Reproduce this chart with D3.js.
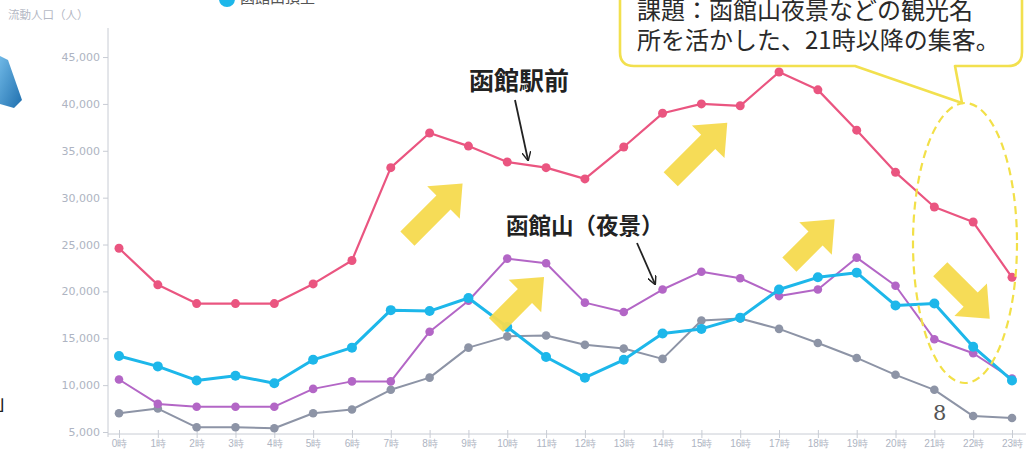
<!DOCTYPE html>
<html><head><meta charset="utf-8">
<script src="https://cdn.jsdelivr.net/npm/d3@7/dist/d3.min.js"></script>
<style>
html,body{margin:0;padding:0;background:#fff;overflow:hidden;}
svg{display:block;font-family:"Noto Sans CJK JP","Noto Sans",sans-serif;}
</style></head>
<body>
<svg id="chart" width="1026" height="450"></svg>
<script>
const hours = ["0時","1時","2時","3時","4時","5時","6時","7時","8時","9時","10時","11時","12時","13時","14時","15時","16時","17時","18時","19時","20時","21時","22時","23時"];
const yTicks = [5000,10000,15000,20000,25000,30000,35000,40000,45000];
const ekimae = [24600,20700,18700,18700,18700,20800,23300,33200,36900,35500,33800,33200,32000,35400,39000,40000,39800,43400,41500,37200,32700,29000,27400,21500];
const cyanSeries = [13100,12000,10500,11000,10200,12700,14000,18000,17900,19300,16200,13000,10800,12700,15500,16000,17200,20200,21500,22000,18500,18700,14100,10500];
const hakodateyama = [10600,8000,7700,7700,7700,9600,10400,10400,15700,19000,23500,23000,18800,17800,20200,22100,21400,19500,20200,23600,20600,14900,13400,10700];
const graySeries = [7000,7500,5500,5500,5400,7000,7400,9500,10800,14000,15200,15300,14300,13900,12800,16900,17100,16000,14500,12900,11100,9500,6700,6500];

const svg = d3.select("#chart");
const x = d3.scalePoint().domain(hours).range([119,1012]);
const y = d3.scaleLinear().domain([5000,48100]).range([432,28]);

// ---------- axes ----------
const axisColor = "#c8ccd4", labelColor = "#aeb4c2";
const yAxis = svg.append("g").attr("transform","translate(108,0)")
  .call(d3.axisLeft(y).tickValues(yTicks).tickSize(5).tickPadding(3).tickFormat(d3.format(",")));
yAxis.select(".domain").attr("stroke",axisColor).attr("d","M0,28V437");
yAxis.selectAll(".tick line").attr("stroke",axisColor);
yAxis.selectAll(".tick text").attr("fill",labelColor).attr("font-size",11).attr("font-family","DejaVu Sans, sans-serif");

const xAxis = svg.append("g").attr("transform","translate(0,434)")
  .call(d3.axisBottom(x).tickSize(4).tickPadding(2));
xAxis.select(".domain").attr("stroke",axisColor).attr("d","M108,0H1026");
xAxis.selectAll(".tick line").attr("stroke",axisColor).attr("y1",-4);
xAxis.selectAll(".tick text").attr("fill",labelColor).attr("font-size",10);

svg.append("text").attr("x",8).attr("y",19).attr("fill","#b4b8c4").attr("font-size",11.5).text("流動人口（人）");

// ---------- series ----------
const series = [
  {name:"gray", values:graySeries, color:"#8d94a6", w:2, r:4.3},
  {name:"hakodateyama", values:hakodateyama, color:"#b366c6", w:2, r:4.3},
  {name:"cyan", values:cyanSeries, color:"#1db7ea", w:3, r:5},
  {name:"ekimae", values:ekimae, color:"#ea5580", w:2.2, r:4.5}
];
const line = d3.line().x((d,i)=>x(hours[i])).y(d=>y(d));
series.forEach(s=>{
  const g = svg.append("g");
  g.append("path").attr("d",line(s.values)).attr("fill","none").attr("stroke",s.color).attr("stroke-width",s.w).attr("stroke-linejoin","round");
  g.selectAll("circle").data(s.values).join("circle")
    .attr("cx",(d,i)=>x(hours[i])).attr("cy",d=>y(d)).attr("r",s.r).attr("fill",s.color);
});

// ---------- decorations ----------
function blockArrow(cx,cy,len,rot){
  const sw=10, hw=23, hl=27, h=len/2;
  const p=[[-h,-sw],[h-hl,-sw],[h-hl,-hw],[h,0],[h-hl,hw],[h-hl,sw],[-h,sw]];
  svg.append("path").attr("d","M"+p.map(q=>q.join(",")).join("L")+"Z")
    .attr("fill","#f6da4e").attr("opacity",0.95)
    .attr("transform",`translate(${cx},${cy}) rotate(${rot})`);
}
blockArrow(435,211,78,-45);
blockArrow(699,151,80,-45);
blockArrow(520,301,68,-45);
blockArrow(812,242,64,-45);
blockArrow(965,294,70,45);

// dashed ellipse
svg.append("ellipse").attr("cx",965).attr("cy",243).attr("rx",52).attr("ry",140)
  .attr("fill","none").attr("stroke","#f2e048").attr("stroke-width",2.2).attr("stroke-dasharray","8,5");

// callout box
svg.append("path")
  .attr("d","M620,-20 L620,52 Q620,66 634,66 L855,66 L962,103 L955,66 L1008,66 Q1022,66 1022,52 L1022,-20 Z")
  .attr("fill","#fff").attr("stroke","#f2e04e").attr("stroke-width",2.6).attr("stroke-linejoin","round");
const callout = ["課題：函館山夜景などの観光名","所を活かした、21時以降の集客。"];
svg.append("text").attr("x",637).attr("y",19).attr("font-size",24).attr("fill","#2a2a2a").text(callout[0]);
svg.append("text").attr("x",637).attr("y",49).attr("font-size",24).attr("fill","#2a2a2a").text(callout[1]);

// annotations
svg.append("defs").append("marker").attr("id","ah").attr("viewBox","0 0 10 10").attr("refX",9).attr("refY",5)
  .attr("markerWidth",9).attr("markerHeight",9).attr("orient","auto-start-reverse").attr("markerUnits","userSpaceOnUse")
  .append("path").attr("d","M0,0L10,5L0,10").attr("fill","none").attr("stroke","#222").attr("stroke-width",1.6);
svg.append("text").attr("x",469).attr("y",90).attr("font-size",25).attr("font-weight","bold").attr("fill","#222").text("函館駅前");
svg.append("line").attr("x1",515).attr("y1",100).attr("x2",528).attr("y2",160).attr("stroke","#222").attr("stroke-width",1.8).attr("marker-end","url(#ah)");
svg.append("text").attr("x",506).attr("y",234).attr("font-size",22.5).attr("font-weight","bold").attr("fill","#222").text("函館山（夜景）");
svg.append("line").attr("x1",637).attr("y1",243).attr("x2",655).attr("y2",284).attr("stroke","#222").attr("stroke-width",1.8).attr("marker-end","url(#ah)");

// page number
svg.append("text").attr("x",933).attr("y",420).attr("font-size",21).attr("font-family","DejaVu Serif, serif").attr("fill","#555").text("8");

// partial legend at top
svg.append("circle").attr("cx",227).attr("cy",-1).attr("r",8).attr("fill","#1db7ea");
svg.append("text").attr("x",240).attr("y",3).attr("font-size",15).attr("fill","#555").text("函館山頂上");

// slide fragments at left edge
const grad = svg.append("defs").append("linearGradient").attr("id","bg").attr("x1","0").attr("y1","0").attr("x2","1").attr("y2","1");
grad.append("stop").attr("offset","0").attr("stop-color","#6fb8e6");
grad.append("stop").attr("offset","1").attr("stop-color","#1f6fae");
svg.append("path").attr("d","M0,56 L8,60 L22,100 L14,108 L0,104 Z").attr("fill","url(#bg)");
svg.append("text").attr("x",-4).attr("y",410).attr("font-size",20).attr("fill","#222").text("」");
</script>
</body></html>
